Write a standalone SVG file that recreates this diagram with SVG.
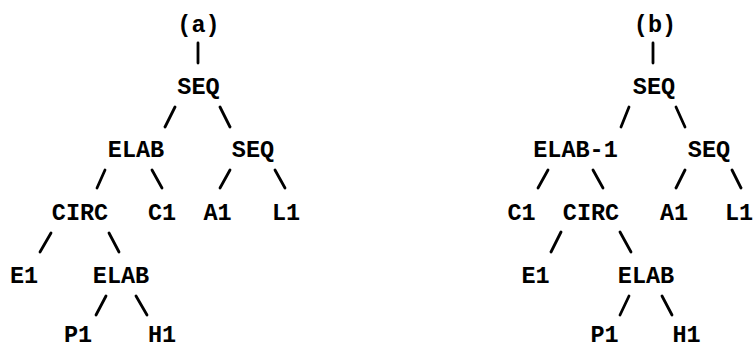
<svg xmlns="http://www.w3.org/2000/svg" width="753" height="349" viewBox="0 0 753 349">
<style>
text{font-family:"Liberation Mono","DejaVu Sans Mono",monospace;font-weight:bold;font-size:23.5px;fill:#000;text-anchor:middle}
line{stroke:#000;stroke-width:2.8;stroke-linecap:round}
</style>
<rect width="753" height="349" fill="#fff"/>
<g id="connectors">
<line x1="198" y1="43" x2="198" y2="63"/>
<line x1="175" y1="107" x2="165" y2="127"/>
<line x1="220" y1="107" x2="230" y2="127"/>
<line x1="105" y1="170" x2="97" y2="188"/>
<line x1="152" y1="170" x2="162" y2="188"/>
<line x1="230" y1="170" x2="220" y2="188"/>
<line x1="275" y1="170" x2="285" y2="188"/>
<line x1="51" y1="233" x2="40" y2="252"/>
<line x1="109" y1="233" x2="119" y2="252"/>
<line x1="106" y1="296" x2="96" y2="315"/>
<line x1="136" y1="296" x2="147" y2="315"/>
<line x1="653" y1="43" x2="653" y2="63"/>
<line x1="629" y1="107" x2="621" y2="127"/>
<line x1="676" y1="107" x2="685" y2="127"/>
<line x1="548" y1="170" x2="538" y2="188"/>
<line x1="593" y1="170" x2="603" y2="188"/>
<line x1="685" y1="170" x2="676" y2="188"/>
<line x1="732" y1="170" x2="741" y2="188"/>
<line x1="561" y1="232" x2="551" y2="252"/>
<line x1="620" y1="232" x2="631" y2="252"/>
<line x1="629" y1="296" x2="620" y2="315"/>
<line x1="662" y1="296" x2="672" y2="315"/>
</g>
<g id="a-label"><text x="198.5" y="32">(a)</text></g>
<g id="a-seq"><text x="198.5" y="94">SEQ</text></g>
<g id="a-elab"><text x="136" y="157">ELAB</text></g>
<g id="a-seq2"><text x="253" y="157">SEQ</text></g>
<g id="a-circ"><text x="80" y="220">CIRC</text></g>
<g id="a-c1"><text x="162" y="220">C1</text></g>
<g id="a-a1"><text x="217.5" y="220">A1</text></g>
<g id="a-l1"><text x="286" y="220">L1</text></g>
<g id="a-e1"><text x="24" y="283">E1</text></g>
<g id="a-elab2"><text x="121" y="283">ELAB</text></g>
<g id="a-p1"><text x="78" y="342">P1</text></g>
<g id="a-h1"><text x="162" y="342">H1</text></g>
<g id="b-label"><text x="655" y="32">(b)</text></g>
<g id="b-seq"><text x="654" y="94">SEQ</text></g>
<g id="b-elab1"><text x="575.5" y="157">ELAB-1</text></g>
<g id="b-seq2"><text x="709" y="157">SEQ</text></g>
<g id="b-c1"><text x="521.5" y="220">C1</text></g>
<g id="b-circ"><text x="591" y="220">CIRC</text></g>
<g id="b-a1"><text x="674" y="220">A1</text></g>
<g id="b-l1"><text x="739" y="220">L1</text></g>
<g id="b-e1"><text x="535.5" y="283">E1</text></g>
<g id="b-elab"><text x="646" y="283">ELAB</text></g>
<g id="b-p1"><text x="604.5" y="342">P1</text></g>
<g id="b-h1"><text x="686.5" y="342">H1</text></g>
</svg>
